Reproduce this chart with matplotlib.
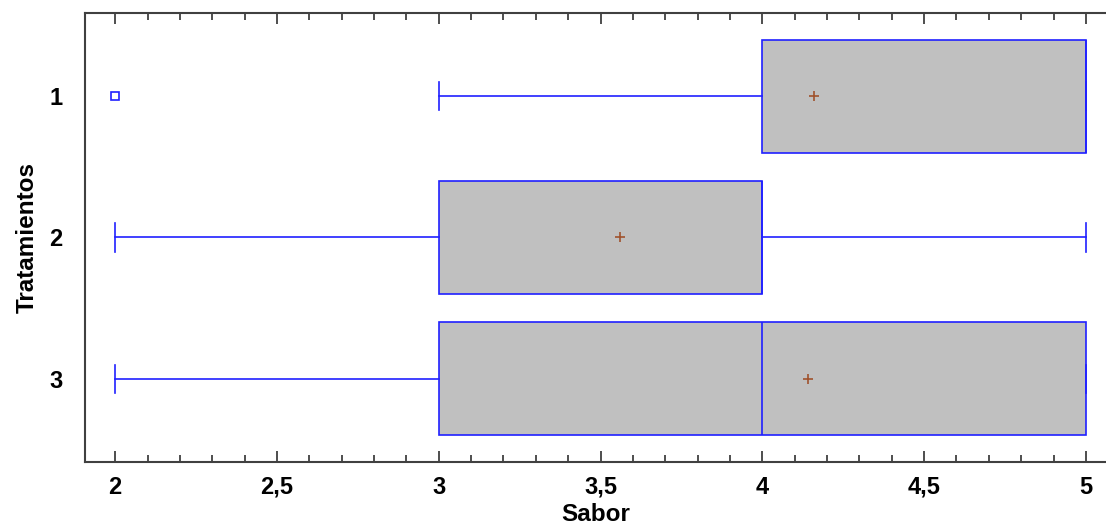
import matplotlib
matplotlib.use("Agg")
import matplotlib.pyplot as plt
from matplotlib.ticker import MultipleLocator, FuncFormatter

plt.rcParams['font.family'] = ['Liberation Sans', 'DejaVu Sans']

# Data
tratamientos = ['1', '2', '3']
q1 = [4, 3, 3]
medianas = [5, 4, 4]
q3 = [5, 4, 5]
bigote_min = [3, 2, 2]
bigote_max = [5, 5, 5]
medias = [4.16, 3.56, 4.14]
atipicos = [[2], [], []]

azul = '#2020ff'

# Build stats for bxp
stats = []
for i in range(len(tratamientos)):
    stats.append({
        'label': tratamientos[i],
        'q1': q1[i], 'med': medianas[i], 'q3': q3[i],
        'whislo': bigote_min[i], 'whishi': bigote_max[i],
        'mean': medias[i], 'fliers': atipicos[i],
    })

fig = plt.figure(figsize=(11.06, 5.28), dpi=100)
ax = fig.add_axes([0.0769, 0.125, 0.9231, 0.8504])

posiciones = [1, 2, 3]
ax.bxp(stats, positions=posiciones, vert=False, widths=0.8,
       patch_artist=True, showmeans=True,
       boxprops=dict(facecolor='#c0c0c0', edgecolor=azul, linewidth=1.2),
       whiskerprops=dict(color=azul, linewidth=1.2),
       capprops=dict(color=azul, linewidth=1.2),
       medianprops=dict(color=azul, linewidth=1.2),
       meanprops=dict(marker='+', markeredgecolor='#a0522d', markersize=7,
                      markeredgewidth=1.2),
       flierprops=dict(marker='s', markerfacecolor='none', markeredgecolor=azul,
                       markersize=6, markeredgewidth=1.2),
       capwidths=0.2)

ax.set_xlim(1.907, 5.062)
ax.set_ylim(3.59, 0.41)

ax.xaxis.set_major_locator(MultipleLocator(0.5))
ax.xaxis.set_minor_locator(MultipleLocator(0.1))
ax.xaxis.set_major_formatter(FuncFormatter(lambda v, p: ('%g' % v).replace('.', ',')))
ax.tick_params(axis='x', which='both', direction='in', top=True, bottom=True,
               color='#404040', width=1.3, labelsize=17, pad=10)
ax.tick_params(axis='x', which='major', length=8)
ax.tick_params(axis='x', which='minor', length=5)
ax.tick_params(axis='y', length=0, labelsize=17, pad=16)
for lab in ax.get_xticklabels() + ax.get_yticklabels():
    lab.set_fontweight('bold')

for s in ['left', 'top', 'bottom']:
    ax.spines[s].set_color('#404040')
    ax.spines[s].set_linewidth(1.5)
ax.spines['right'].set_visible(False)

ax.set_xlabel('Sabor', fontsize=17.5, fontweight='bold', labelpad=3)
ax.set_ylabel('Tratamientos', fontsize=17.5, fontweight='bold', labelpad=8)

fig.savefig('out.png', dpi=100)
